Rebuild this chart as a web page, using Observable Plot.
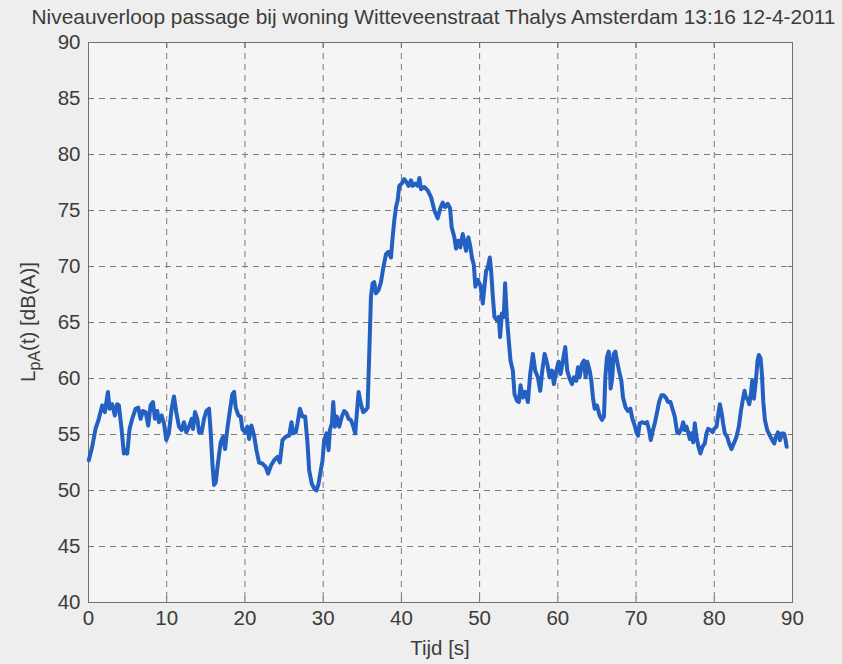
<!DOCTYPE html>
<html>
<head>
<meta charset="utf-8">
<script src="https://cdn.jsdelivr.net/npm/d3@7"></script>
<script src="https://cdn.jsdelivr.net/npm/@observablehq/plot@0.6"></script>
<style>
  html, body { margin: 0; padding: 0; }
  body { width: 842px; height: 664px; overflow: hidden; background: #edeeed; position: relative;
         font-family: "Liberation Sans Narrow", "Arial Narrow", "Liberation Sans", Arial, sans-serif; color: #3c3c3c; }
  #title { position: absolute; left: 25px; width: 817px; top: 5px; text-align: center; font-size: 20.9px; line-height: 24px; white-space: nowrap; }
  #chart { position: absolute; left: 0; top: 30px; }
</style>
</head>
<body>
<div id="title">Niveauverloop passage bij woning Witteveenstraat Thalys Amsterdam 13:16 12-4-2011</div>
<div id="chart"></div>
<script>
// Time [s]
const tijd = [
  0.04,0.47,0.90,1.32,1.75,2.09,2.48,2.69,3.03,3.37,3.67,3.88,4.23,4.52,4.74,4.95,5.25,5.59,6.02,6.36,
  6.66,6.96,7.30,7.64,7.94,8.24,8.49,8.79,9.01,9.35,9.65,9.94,10.29,10.63,10.93,11.22,11.57,11.91,12.21,12.50,
  12.85,13.19,13.36,13.62,13.91,14.13,14.47,14.77,15.07,15.41,15.62,15.83,16.05,16.26,16.56,16.90,17.20,17.46,17.75,18.05,
  18.39,18.61,18.82,19.16,19.46,19.67,20.01,20.31,20.53,20.83,21.17,21.47,21.81,
  22.24,22.66,22.96,23.31,23.73,24.16,24.46,24.80,25.22,25.65,25.95,26.16,26.50,26.72,27.02,27.36,27.70,28.00,28.21,28.55,
  28.85,29.15,29.41,29.62,29.92,30.13,30.43,30.69,30.86,31.12,31.29,31.50,31.75,32.05,32.39,32.69,32.99,33.25,33.55,33.85,
  34.10,34.27,34.53,34.83,35.12,35.47,35.68,35.89,36.11,36.32,36.53,36.75,37.09,37.39,37.69,38.03,38.33,38.67,38.88,39.09,
  39.31,39.52,39.73,40.03,40.37,40.67,40.93,41.23,41.44,41.78,42.08,42.30,42.51,42.93,43.36,43.79,
  44.22,44.64,44.98,45.28,45.58,45.92,46.22,46.43,46.77,46.99,47.29,47.54,47.84,48.06,48.27,48.57,48.83,49.04,49.25,49.46,
  49.76,50.11,50.41,50.62,50.83,51.05,51.30,51.47,51.69,51.90,52.20,52.45,52.62,52.84,53.09,53.26,53.48,53.69,53.95,54.25,
  54.46,54.80,55.02,55.23,55.53,55.83,56.17,56.47,56.81,57.11,57.45,57.75,58.01,58.31,58.65,58.94,59.24,59.50,59.80,60.09,
  60.35,60.65,60.95,61.20,61.50,61.80,62.06,62.36,62.57,62.78,63.08,63.34,63.55,63.77,64.07,64.28,64.49,64.71,65.00,65.34,
  65.64,65.90,66.07,66.28,66.50,
  66.63,66.75,66.96,67.14,67.35,67.56,67.82,68.12,68.33,68.67,68.97,69.27,69.53,69.83,70.04,70.25,70.47,70.81,71.11,71.41,
  71.66,71.88,72.09,72.39,72.69,72.94,73.24,73.54,73.80,74.10,74.40,74.65,74.95,75.25,75.50,75.80,76.02,76.23,76.44,76.66,
  76.87,77.08,77.30,77.51,77.72,77.98,78.23,78.49,78.79,79.00,79.21,79.51,79.77,79.98,80.28,80.49,80.71,80.92,81.13,81.35,
  81.65,81.90,82.20,82.50,82.84,83.14,83.40,83.70,83.87,84.04,84.25,84.47,84.68,84.85,85.06,85.32,85.53,85.70,85.92,86.09,
  86.26,86.47,86.77,87.11,87.41,87.67,87.88,88.14,88.39,88.65,88.90,89.12,89.25
];
// L_pA(t) [dB(A)]
const niveau = [
  52.7,53.9,55.5,56.4,57.6,57.0,58.8,57.3,57.7,56.7,57.7,57.6,55.5,53.3,53.6,53.3,55.5,56.4,57.3,57.4,
  56.4,57.1,57.0,55.8,57.6,57.9,56.4,57.1,56.1,56.7,56.0,54.5,55.2,57.3,58.4,57.0,55.7,55.4,56.1,55.2,
  55.7,56.4,55.5,57.0,56.4,55.2,55.2,56.4,57.1,57.3,55.2,52.5,50.5,50.7,52.5,54.3,54.8,53.7,55.5,57.0,
  58.6,58.8,57.4,56.7,56.6,55.5,55.2,55.7,54.6,55.8,54.9,53.6,52.5,
  52.4,52.1,51.5,52.2,52.7,53.0,52.5,54.5,54.8,54.9,56.1,55.1,55.2,56.0,57.3,56.6,56.6,54.2,51.8,50.6,
  50.2,50.0,50.6,51.5,52.7,54.5,55.1,53.6,55.4,56.0,57.9,55.7,56.6,55.7,56.6,57.1,56.9,56.4,56.3,55.7,
  55.1,56.6,58.8,57.7,57.0,57.2,57.4,62.2,67.3,68.5,68.6,67.6,67.9,68.6,69.9,71.1,71.3,70.8,72.6,74.1,
  75.3,75.9,77.2,77.4,77.8,77.5,77.2,77.7,77.2,77.4,77.2,77.9,76.9,77.1,76.8,76.2,
  75.0,74.3,75.2,75.7,75.3,75.6,75.2,73.5,72.6,71.6,72.3,71.7,72.9,72.2,71.4,72.6,71.7,70.7,70.2,68.2,
  68.8,68.3,66.7,68.2,69.6,69.9,70.8,69.6,67.3,65.5,65.2,65.5,63.7,65.8,65.5,68.5,65.5,63.7,61.6,60.7,
  58.6,58.0,57.9,59.4,58.3,58.8,57.9,60.4,62.2,60.7,60.1,58.9,60.7,62.2,61.3,60.1,60.7,59.5,60.7,61.5,
  60.4,61.6,62.8,60.7,60.0,59.5,60.1,59.8,61.0,60.1,61.3,61.6,60.1,61.5,60.7,59.8,58.3,57.3,57.6,56.7,
  56.3,56.6,60.1,61.9,62.4,
  61.6,59.1,60.1,62.2,62.4,61.6,60.7,59.8,58.3,57.4,57.1,57.3,56.4,55.8,55.2,54.9,56.0,56.1,56.0,56.1,
  55.4,54.5,55.2,56.0,57.0,57.9,58.5,58.5,58.3,57.9,57.9,57.3,56.6,55.2,55.1,55.5,56.1,55.4,55.7,55.2,
  54.6,55.1,54.3,56.0,54.8,53.9,53.3,53.9,54.2,55.1,55.5,55.4,55.2,55.5,55.7,56.7,57.7,57.0,56.0,55.1,
  54.8,54.2,53.7,54.2,54.8,55.7,57.1,58.3,58.9,58.3,58.2,57.7,58.6,59.8,58.2,59.8,61.6,62.1,61.8,60.4,
  58.0,56.3,55.4,54.9,54.5,54.2,54.8,55.2,54.5,55.1,55.1,54.5,53.9
];
const xTicks = [0, 10, 20, 30, 40, 50, 60, 70, 80, 90];
const yTicks = [40, 45, 50, 55, 60, 65, 70, 75, 80, 85, 90];

const data = tijd.map((t, i) => ({t, L: niveau[i]}));

const W = 842, H = 634;
const ink = "#3c3c3c";
const plot = Plot.plot({
  width: W, height: H,
  marginLeft: 88, marginRight: 50, marginTop: 12, marginBottom: 62,
  style: {background: "transparent", fontSize: "20.5px", color: ink,
          fontFamily: '"Liberation Sans Narrow", "Arial Narrow", "Liberation Sans", Arial, sans-serif'},
  x: {domain: [0, 90]},
  y: {domain: [40, 90]},
  marks: [
    Plot.frame({fill: "#f4f5f4", stroke: null}),
    Plot.gridX(xTicks, {stroke: "#7a7a7a", strokeOpacity: 1, strokeDasharray: "6,5", strokeWidth: 1}),
    Plot.gridY(yTicks, {stroke: "#7a7a7a", strokeOpacity: 1, strokeDasharray: "6,5", strokeWidth: 1}),
    Plot.frame({stroke: "#707070", strokeWidth: 1}),
    Plot.axisX(xTicks, {anchor: "bottom", tickSize: -5, tickPadding: 13, label: null, stroke: "#707070", fill: ink}),
    Plot.axisX(xTicks, {anchor: "top", tickSize: -5, tickFormat: () => "", label: null, stroke: "#707070"}),
    Plot.axisY(yTicks, {anchor: "left", tickSize: -5, tickPadding: 13, label: null, stroke: "#707070", fill: ink}),
    Plot.axisY(yTicks, {anchor: "right", tickSize: -5, tickFormat: () => "", label: null, stroke: "#707070"}),
    Plot.line(data, {x: "t", y: "L", stroke: "#2360c2", strokeWidth: 4, strokeLinejoin: "round", strokeLinecap: "round"})
  ]
});
document.getElementById("chart").appendChild(plot);

const svg = d3.select(plot);
svg.append("text")
  .attr("x", 440).attr("y", 625)
  .attr("text-anchor", "middle")
  .attr("fill", ink).attr("font-size", 20.5)
  .text("Tijd [s]");
const yl = svg.append("text")
  .attr("transform", "translate(35,292) rotate(-90)")
  .attr("text-anchor", "middle")
  .attr("fill", ink).attr("font-size", 20.5);
yl.append("tspan").text("L");
yl.append("tspan").attr("font-size", 16).attr("dy", 5).text("pA");
yl.append("tspan").attr("dy", -5).text("(t) [dB(A)]");
</script>
</body>
</html>
